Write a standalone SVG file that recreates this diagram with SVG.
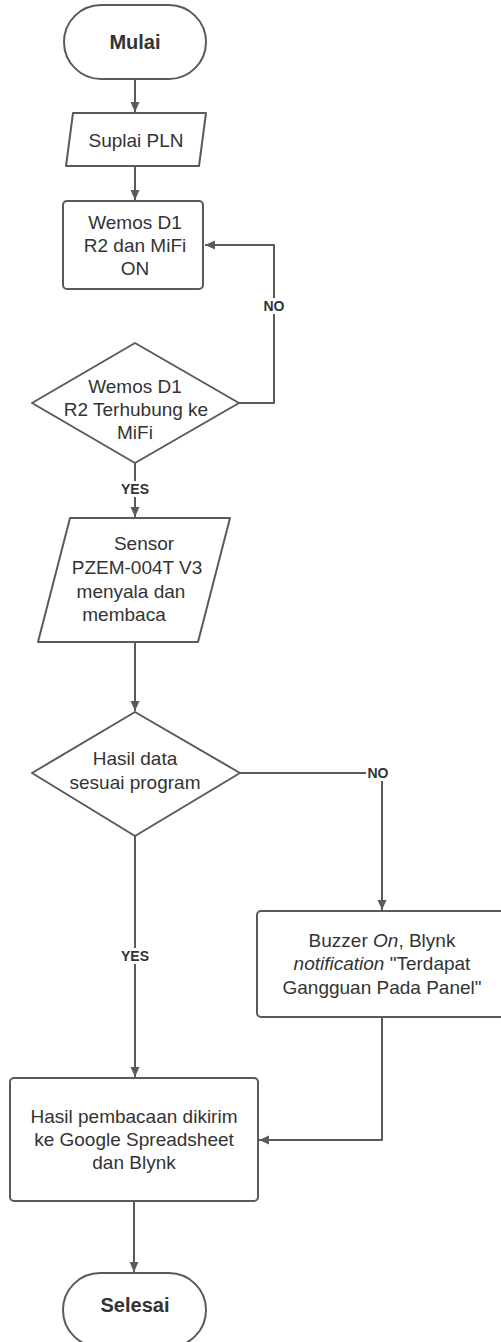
<svg xmlns="http://www.w3.org/2000/svg" width="501" height="1342" viewBox="0 0 501 1342">
<defs>
<style>
.shape{fill:#fff;stroke:#5a5a5a;stroke-width:2;stroke-linejoin:round}
.line{fill:none;stroke:#5a5a5a;stroke-width:2;stroke-linejoin:round}
.t{font-family:"Liberation Sans",Arial,sans-serif;font-size:19px;fill:#333;text-anchor:middle}
.tb{font-family:"Liberation Sans",Arial,sans-serif;font-size:20px;font-weight:bold;fill:#333;text-anchor:middle}
.lbl{font-family:"Liberation Sans",Arial,sans-serif;font-size:14px;font-weight:bold;fill:#333;text-anchor:middle}
.bg{fill:#fff}
</style>
<marker id="arr" markerUnits="userSpaceOnUse" markerWidth="11" markerHeight="10" refX="10" refY="4.5" orient="auto">
<path d="M0,0 L10,4.5 L0,9 z" fill="#5a5a5a"/>
</marker>
</defs>
<rect width="501" height="1342" fill="#fff"/>

<g id="connectors">
<path class="line" d="M135,79 L135,112" marker-end="url(#arr)"/>
<path class="line" d="M135,166 L135,200" marker-end="url(#arr)"/>
<path class="line" d="M239,403 L274,403 L274,245 L205,245" marker-end="url(#arr)"/>
<path class="line" d="M135,463 L135,517" marker-end="url(#arr)"/>
<path class="line" d="M135,642 L135,711" marker-end="url(#arr)"/>
<path class="line" d="M240,773 L382,773 L382,910" marker-end="url(#arr)"/>
<path class="line" d="M135,836 L135,1077" marker-end="url(#arr)"/>
<path class="line" d="M382,1017 L382,1140 L259,1140" marker-end="url(#arr)"/>
<path class="line" d="M134,1201 L134,1272" marker-end="url(#arr)"/>
<rect class="bg" x="262" y="298" width="24" height="16"/>
<text class="lbl" x="274" y="311">NO</text>
<rect class="bg" x="119" y="481" width="32" height="16"/>
<text class="lbl" x="135" y="494">YES</text>
<rect class="bg" x="366" y="765" width="24" height="16"/>
<text class="lbl" x="378" y="778">NO</text>
<rect class="bg" x="119" y="948" width="32" height="16"/>
<text class="lbl" x="135" y="961">YES</text>
</g>

<g id="mulai">
<rect class="shape" x="64" y="5" width="142" height="74" rx="37"/>
<text class="tb" x="135" y="49">Mulai</text>
</g>

<g id="suplai">
<path class="shape" d="M73,113 L206,113 L199,166 L66,166 Z"/>
<text class="t" x="136" y="147">Suplai PLN</text>
</g>

<g id="wemos-on">
<rect class="shape" x="63" y="201" width="140" height="88" rx="4"/>
<text class="t" x="135" y="229">Wemos D1</text>
<text class="t" x="135" y="252">R2 dan MiFi</text>
<text class="t" x="135" y="275">ON</text>
</g>

<g id="cek-wifi">
<path class="shape" d="M135,343 L239,403 L135,463 L32,403 Z"/>
<text class="t" x="135" y="393">Wemos D1</text>
<text class="t" x="136" y="416">R2 Terhubung ke</text>
<text class="t" x="135" y="439">MiFi</text>
</g>

<g id="sensor">
<path class="shape" d="M70,518 L230,518 L198,642 L38,642 Z"/>
<text class="t" x="144" y="550">Sensor</text>
<text class="t" x="137" y="574">PZEM-004T V3</text>
<text class="t" x="131" y="598">menyala dan</text>
<text class="t" x="124" y="621">membaca</text>
</g>

<g id="cek-data">
<path class="shape" d="M135,712 L240,773 L135,836 L32,773 Z"/>
<text class="t" x="135" y="765">Hasil data</text>
<text class="t" x="135" y="789">sesuai program</text>
</g>

<g id="buzzer">
<rect class="shape" x="257" y="911" width="250" height="106" rx="4"/>
<text class="t" x="382" y="947">Buzzer <tspan font-style="italic">On</tspan>, Blynk</text>
<text class="t" x="382" y="970"><tspan font-style="italic">notification</tspan> "Terdapat</text>
<text class="t" x="382" y="994">Gangguan Pada Panel"</text>
</g>

<g id="kirim">
<rect class="shape" x="10" y="1078" width="248" height="123" rx="4"/>
<text class="t" x="134" y="1123">Hasil pembacaan dikirim</text>
<text class="t" x="134" y="1146">ke Google Spreadsheet</text>
<text class="t" x="134" y="1169">dan Blynk</text>
</g>

<g id="selesai">
<rect class="shape" x="63" y="1273" width="143" height="74" rx="37"/>
<text class="tb" x="135" y="1312">Selesai</text>
</g>
</svg>
